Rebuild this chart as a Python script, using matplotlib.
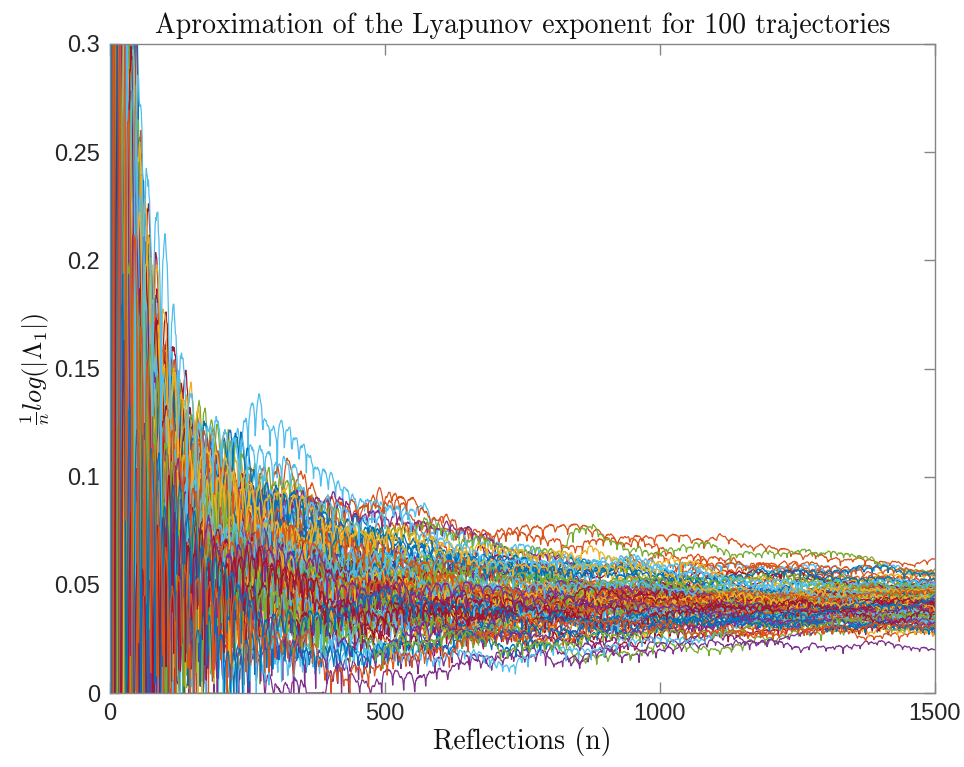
import numpy as np
import matplotlib
matplotlib.use('Agg')
import matplotlib.pyplot as plt

plt.rcParams['mathtext.fontset'] = 'cm'

# ---------------- data ----------------
N_REFLECTIONS = 1500
x_ticks = [0, 500, 1000, 1500]
x_tick_labels = ['0', '500', '1000', '1500']
y_ticks = [0, 0.05, 0.1, 0.15, 0.2, 0.25, 0.3]
y_tick_labels = ['0', '0.05', '0.1', '0.15', '0.2', '0.25', '0.3']
title_text = 'Aproximation of the Lyapunov exponent for 100 trajectories'
xlabel_text = 'Reflections (n)'
ylabel_text = r'$\frac{1}{n}log(|\Lambda_1|)$'

# MATLAB default colour order
line_colors = ['#0072BD', '#D95319', '#EDB120', '#7E2F8E', '#77AC30', '#4DBEEE', '#A2142F']

# estimated value of each (unhighlighted) trajectory at n = 1500
final_values = [
    0.0445, 0.0505, 0.0392, 0.0340, 0.0478, 0.0365, 0.0415, 0.0305, 0.0520, 0.0432,
    0.0358, 0.0468, 0.0330, 0.0410, 0.0540, 0.0385, 0.0452, 0.0322, 0.0498, 0.0372,
    0.0425, 0.0300, 0.0490, 0.0347, 0.0438, 0.0400, 0.0285, 0.0530, 0.0375, 0.0460,
    0.0352, 0.0418, 0.0315, 0.0485, 0.0395, 0.0442, 0.0337, 0.0510, 0.0368, 0.0428,
    0.0275, 0.0475, 0.0382, 0.0448, 0.0325, 0.0402, 0.0555, 0.0362, 0.0435, 0.0310,
    0.0495, 0.0388, 0.0455, 0.0345, 0.0420, 0.0370, 0.0465, 0.0332, 0.0408, 0.0525,
    0.0378, 0.0440, 0.0320, 0.0482, 0.0355, 0.0412, 0.0302, 0.0458, 0.0390, 0.0432,
    0.0342, 0.0500, 0.0362, 0.0422, 0.0317, 0.0470, 0.0398, 0.0450, 0.0335, 0.0405,
    0.0545, 0.0380, 0.0437, 0.0327, 0.0488, 0.0368, 0.0415, 0.0295, 0.0462, 0.0393,
    0.0430, 0.0350, 0.0512, 0.0372, 0.0447, 0.0312,
]

# highlighted trajectories: (n, value) points
cyan_n = [10, 30, 50, 73, 100, 130, 160, 204, 230, 262, 300, 345, 405, 496, 587, 678, 800, 1000, 1200, 1500]
cyan_v = [0.40, 0.22, 0.18, 0.168, 0.14, 0.12, 0.105, 0.098, 0.115, 0.130, 0.118, 0.113, 0.098, 0.085,
          0.080, 0.069, 0.063, 0.058, 0.056, 0.055]
orange_n = [10, 40, 80, 150, 242, 376, 467, 587, 709, 733, 873, 1073, 1255, 1500]
orange_v = [0.40, 0.20, 0.14, 0.105, 0.088, 0.089, 0.086, 0.081, 0.074, 0.073, 0.0745, 0.0707, 0.064, 0.0615]
green_n = [10, 40, 70, 120, 200, 300, 400, 587, 709, 820, 836, 1013, 1195, 1500]
green_v = [0.40, 0.20, 0.165, 0.135, 0.11, 0.095, 0.085, 0.077, 0.0675, 0.064, 0.073, 0.066, 0.065, 0.057]
purple_n = [10, 60, 150, 300, 400, 450, 530, 678, 709, 891, 1133, 1300, 1500]
purple_v = [0.25, 0.08, 0.03, 0.004, 0.008, 0.012, 0.016, 0.0166, 0.0185, 0.0185, 0.023, 0.021, 0.020]

# ---------------- fluctuation texture (deterministic chaotic standard map) ----------------
n_bulk = len(final_values)
n_total = n_bulk + 4
steps = np.arange(1, N_REFLECTIONS + 1)

K = 6.0
theta = 2 * np.pi * (np.arange(n_total) + 0.5) / n_total
p = 0.7 + 0.013 * np.arange(n_total)


def iterate(count):
    global theta, p
    for _ in range(count):
        p = p + K * np.sin(theta)
        theta = np.mod(theta + p, 2 * np.pi)
    return theta / (2 * np.pi)


u0 = iterate(60)
u1 = iterate(7)
u2 = iterate(7)

incr = np.empty((N_REFLECTIONS, n_total))
for k in range(N_REFLECTIONS):
    p = p + K * np.sin(theta)
    theta = np.mod(theta + p, 2 * np.pi)
    incr[k] = np.sqrt(2) * np.sin(theta)

sigma = 0.28
walks = sigma * np.cumsum(incr, axis=0)
offsets = 1.5 + 7.0 * u0
omegas = 0.13 + 0.17 * u1
phases = 2 * np.pi * u2
dip_scale = 0.8 * (1 + 4.0 * np.exp(-steps / 150.0))


def trajectory(j, anchor_n, anchor_g):
    anchor_n = np.asarray(anchor_n, float)
    anchor_g = np.asarray(anchor_g, float)
    base = np.interp(steps, anchor_n, anchor_g)
    walk = walks[:, j]
    full = np.concatenate([[0.0], walk])
    w_at = np.interp(anchor_n, np.arange(0, N_REFLECTIONS + 1), full)
    bridge = walk - np.interp(steps, anchor_n, w_at)
    s = np.abs(np.sin(omegas[j] * steps + phases[j])) + 1e-12
    dip = dip_scale * (np.clip(np.log(s), -5.5, 0) + np.log(2))
    g = base + bridge + dip
    return np.maximum(g, 0) / steps


# ---------------- figure ----------------
fig = plt.figure(figsize=(9.64, 7.67), dpi=100)
ax = fig.add_axes([110 / 964, 74 / 767, 825 / 964, 649 / 767])

special = {
    1 + 7 * 3: (orange_n, orange_v, line_colors[1]),
    4 + 7 * 5: (green_n, green_v, line_colors[4]),
    5 + 7 * 2: (cyan_n, cyan_v, line_colors[5]),
    3 + 7 * 1: (purple_n, purple_v, line_colors[3]),
}

bulk_i = 0
for j in range(n_total):
    color = line_colors[j % 7]
    if j in special:
        sn, sv, color = special[j]
        an = [0] + list(sn)
        ag = [offsets[j]] + [v * n for n, v in zip(sn, sv)]
    else:
        fv = final_values[bulk_i]
        bulk_i += 1
        an = [0, N_REFLECTIONS]
        ag = [offsets[j], fv * N_REFLECTIONS]
    y = trajectory(j, an, ag)
    ax.plot(steps, y, color=color, lw=0.9)

ax.set_xlim(0, 1500)
ax.set_ylim(0, 0.3)
ax.set_xticks(x_ticks)
ax.set_xticklabels(x_tick_labels)
ax.set_yticks(y_ticks)
ax.set_yticklabels(y_tick_labels)

tick_color = '#262626'
spine_color = '#858585'
for s in ax.spines.values():
    s.set_color(spine_color)
    s.set_linewidth(1.0)
ax.tick_params(direction='in', length=8, width=1.0, color=spine_color,
               top=True, right=True, labelsize=17, labelcolor=tick_color, pad=7)
for lab in ax.get_xticklabels() + ax.get_yticklabels():
    lab.set_fontfamily('Liberation Sans')

ax.set_title(title_text, fontname='cmr10', fontsize=20, color='#111111', pad=8)
ax.set_xlabel(xlabel_text, fontname='cmr10', fontsize=20, color='#111111', labelpad=2)
ax.set_ylabel(ylabel_text, fontsize=19, color='#111111', labelpad=2)

fig.savefig('out.png', dpi=100)
